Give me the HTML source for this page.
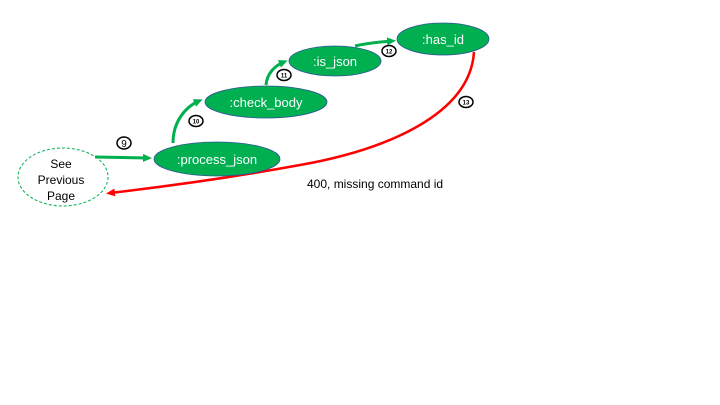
<!DOCTYPE html>
<html><head><style>
html,body{margin:0;padding:0;background:#fff;}
svg{display:block;font-family:"Liberation Sans",Calibri,sans-serif;}
</style></head><body>
<svg width="720" height="405" viewBox="0 0 720 405">
<defs>
<marker id="ag" markerWidth="10" markerHeight="10" refX="5" refY="5" orient="auto" markerUnits="userSpaceOnUse"><path d="M0,1 L9,5 L0,9 z" fill="#00b050"/></marker>
<marker id="ar" markerWidth="10" markerHeight="10" refX="5" refY="5" orient="auto" markerUnits="userSpaceOnUse"><path d="M0,1 L9,5 L0,9 z" fill="#ff0000"/></marker>
</defs>
<path d="M474,52 C470,115 385,150 300,165 C240,176 170,186 110,193" fill="none" stroke="#ff0000" stroke-width="2.5" marker-end="url(#ar)"/>
<g fill="#00b050" stroke="#2f5597" stroke-width="0.8">
<ellipse cx="217" cy="159" rx="63" ry="17"/>
<ellipse cx="266" cy="102" rx="61" ry="16"/>
<ellipse cx="335" cy="61" rx="46" ry="15"/>
<ellipse cx="443" cy="39" rx="46" ry="16"/>
</g>
<ellipse cx="63" cy="177" rx="45" ry="29" fill="#fff" stroke="#00b050" stroke-width="1" stroke-dasharray="3,2"/>
<g fill="#fff" font-size="13" text-anchor="middle">
<text x="217" y="164">:process_json</text>
<text x="266" y="107">:check_body</text>
<text x="335" y="66">:is_json</text>
<text x="443" y="44">:has_id</text>
</g>
<g fill="#000" font-size="12" text-anchor="middle">
<text x="61" y="168">See</text>
<text x="61" y="184">Previous</text>
<text x="61" y="200">Page</text>
</g>
<g fill="none" stroke="#00b050" stroke-width="3">
<path d="M95,157 L148,158" marker-end="url(#ag)"/>
<path d="M173,143 C173,122 185,107 199,101" marker-end="url(#ag)"/>
<path d="M266,85 C267,74 274,66 284,62" marker-end="url(#ag)"/>
<path d="M355,46 C368,43 380,42 392,41" marker-end="url(#ag)"/>
</g>
<g fill="#fff" stroke="#000" stroke-width="1.5">
<ellipse cx="124" cy="143" rx="7" ry="6"/>
<ellipse cx="196" cy="121" rx="7" ry="5.5"/>
<ellipse cx="284" cy="75" rx="7" ry="5.5"/>
<ellipse cx="389" cy="51" rx="7" ry="5.5"/>
<ellipse cx="466" cy="102" rx="7" ry="5.5"/>
</g>
<g fill="#000" text-anchor="middle" font-weight="bold">
<text x="124" y="147" font-size="10" font-weight="normal">9</text>
<text x="196" y="123.5" font-size="6">10</text>
<text x="284" y="77.5" font-size="6">11</text>
<text x="389" y="53.5" font-size="6">12</text>
<text x="466" y="104.5" font-size="6">13</text>
</g>
<text x="307" y="188" font-size="12" fill="#000">400, missing command id</text>
</svg>
</body></html>
